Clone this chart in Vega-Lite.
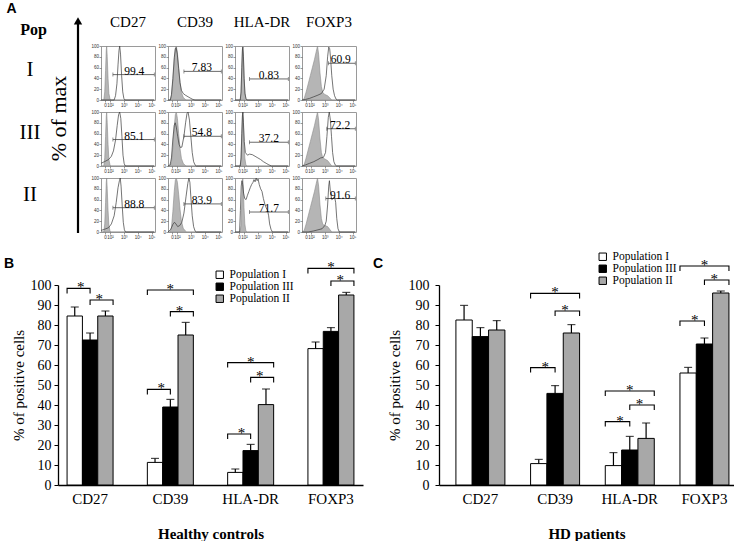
{
"$schema": "https://vega.github.io/schema/vega-lite/v6.json",
"padding": {"left": 4, "top": 2, "right": 0, "bottom": 0},
"background": "white",
"config": {"font": "Liberation Serif", "view": {"stroke": "#9a9a9a", "strokeWidth": 1}, "axis": {"labelColor": "black", "titleColor": "black", "domainColor": "black", "tickColor": "black", "grid": false, "labelFont": "Liberation Serif", "titleFont": "Liberation Serif", "labelOverlap": false}, "legend": {"labelFont": "Liberation Serif"}, "text": {"font": "Liberation Serif"}, "title": {"color": "black"}},
"datasets": {
"pops": [{"pop": "I"}, {"pop": "III"}, {"pop": "II"}],
"hist": [
{"m":"CD27","p":"I","t":"iso","xs":[1.35,1.55,1.62,1.68,1.73,1.76,1.8,1.86,1.92,2.0,2.05,5.2],"ys":[0,0,15,55,92,100,80,40,12,2,0,0]},
{"m":"CD27","p":"III","t":"iso","xs":[1.35,1.55,1.62,1.68,1.73,1.76,1.8,1.86,1.92,2.0,2.05,5.2],"ys":[0,0,15,55,92,100,80,40,12,2,0,0]},
{"m":"CD27","p":"II","t":"iso","xs":[1.35,1.55,1.62,1.68,1.73,1.76,1.8,1.86,1.92,2.0,2.05,5.2],"ys":[0,0,15,55,92,100,80,40,12,2,0,0]},
{"m":"CD39","p":"I","t":"iso","xs":[1.35,1.5,1.6,1.7,1.8,1.88,1.95,2.03,2.12,2.22,2.32,2.45,2.6,2.7,5.2],"ys":[0,0,8,35,72,95,100,88,60,32,14,5,1,0,0]},
{"m":"CD39","p":"III","t":"iso","xs":[1.35,1.5,1.6,1.7,1.8,1.88,1.95,2.03,2.12,2.22,2.32,2.45,2.6,2.7,5.2],"ys":[0,0,8,35,72,95,100,88,60,32,14,5,1,0,0]},
{"m":"CD39","p":"II","t":"iso","xs":[1.35,1.5,1.6,1.7,1.8,1.88,1.95,2.03,2.12,2.22,2.32,2.45,2.6,2.7,5.2],"ys":[0,0,8,38,75,96,100,92,70,42,20,7,2,0,0]},
{"m":"HLA-DR","p":"I","t":"iso","xs":[1.35,1.72,1.78,1.83,1.88,1.91,1.95,2.0,2.06,2.13,2.2,5.2],"ys":[0,0,12,50,90,100,85,45,15,3,0,0]},
{"m":"HLA-DR","p":"III","t":"iso","xs":[1.35,1.72,1.78,1.83,1.88,1.91,1.95,2.0,2.06,2.13,2.2,5.2],"ys":[0,0,12,50,90,100,85,45,15,3,0,0]},
{"m":"HLA-DR","p":"II","t":"iso","xs":[1.35,1.72,1.78,1.83,1.88,1.91,1.95,2.0,2.06,2.13,2.2,5.2],"ys":[0,0,12,50,90,100,85,45,15,3,0,0]},
{"m":"FOXP3","p":"I","t":"iso","xs":[1.35,1.5,1.65,1.8,1.95,2.1,2.25,2.38,2.47,2.55,2.65,2.75,2.85,3.0,3.2,3.35,3.5,5.2],"ys":[0,2,15,30,45,60,75,90,100,85,50,25,14,10,8,4,0,0]},
{"m":"FOXP3","p":"III","t":"iso","xs":[1.35,1.5,1.65,1.8,1.95,2.1,2.25,2.38,2.47,2.55,2.65,2.75,2.85,3.0,3.2,3.35,3.5,5.2],"ys":[0,2,15,30,45,60,75,90,100,85,50,25,15,13,10,5,0,0]},
{"m":"FOXP3","p":"II","t":"iso","xs":[1.35,1.5,1.65,1.8,1.95,2.1,2.25,2.38,2.47,2.55,2.65,2.75,2.85,3.0,3.2,3.35,3.5,5.2],"ys":[0,2,15,30,45,60,75,90,100,85,50,25,14,12,10,5,0,0]},
{"m":"CD27","p":"I","t":"stain","xs":[1.35,2.3,2.4,2.5,2.58,2.65,2.7,2.76,2.84,2.92,3.0,3.08,5.2],"ys":[0,0,8,30,65,92,100,85,45,15,3,0,0]},
{"m":"CD39","p":"I","t":"stain","xs":[1.35,1.52,1.6,1.7,1.8,1.88,1.94,2.02,2.12,2.22,2.32,2.45,2.6,2.8,3.0,3.15,3.3,5.2],"ys":[0,0,10,40,78,95,97,85,58,32,18,12,9,6,3,1,0,0]},
{"m":"HLA-DR","p":"I","t":"stain","xs":[1.35,1.73,1.79,1.84,1.89,1.92,1.96,2.01,2.07,2.14,2.22,5.2],"ys":[0,0,15,60,95,98,80,40,12,3,0,0]},
{"m":"FOXP3","p":"I","t":"stain","xs":[1.35,1.6,1.9,2.2,2.5,2.75,2.95,3.1,3.2,3.28,3.35,3.42,3.5,3.6,3.7,3.8,3.9,5.2],"ys":[0,1,3,6,9,12,20,45,80,98,95,75,45,20,8,2,0,0]},
{"m":"CD27","p":"III","t":"stain","xs":[1.35,1.6,1.9,2.1,2.25,2.4,2.52,2.62,2.7,2.78,2.86,2.94,3.02,3.1,5.2],"ys":[5,8,12,18,28,48,75,95,100,88,55,20,5,0,0]},
{"m":"CD39","p":"III","t":"stain","xs":[1.35,1.5,1.6,1.7,1.8,1.87,1.95,2.05,2.15,2.25,2.35,2.5,2.62,2.72,2.8,2.9,3.0,3.1,3.2,3.3,3.4,5.2],"ys":[0,2,15,50,75,80,72,55,40,34,35,55,80,97,100,85,55,25,8,2,0,0]},
{"m":"HLA-DR","p":"III","t":"stain","xs":[1.35,1.73,1.79,1.84,1.89,1.92,1.96,2.02,2.1,2.25,2.4,2.6,2.8,3.0,3.2,3.4,3.6,3.8,4.0,5.2],"ys":[0,0,15,60,95,100,80,45,25,20,22,21,18,15,12,8,5,2,0,0]},
{"m":"FOXP3","p":"III","t":"stain","xs":[1.35,1.6,1.9,2.2,2.5,2.7,2.9,3.05,3.15,3.25,3.32,3.4,3.48,3.56,3.65,3.75,3.85,5.2],"ys":[0,2,5,8,12,15,16,25,55,90,100,85,55,25,8,2,0,0]},
{"m":"CD27","p":"II","t":"stain","xs":[1.35,1.6,1.9,2.1,2.3,2.45,2.58,2.68,2.74,2.8,2.88,2.96,3.04,3.12,5.2],"ys":[3,5,8,15,30,55,82,95,100,85,50,18,4,0,0]},
{"m":"CD39","p":"II","t":"stain","xs":[1.35,1.55,1.7,1.82,1.92,2.05,2.2,2.35,2.5,2.65,2.78,2.86,2.93,3.0,3.1,3.2,3.3,3.4,5.2],"ys":[0,5,14,18,15,10,12,18,35,65,90,100,92,65,30,10,2,0,0]},
{"m":"HLA-DR","p":"II","t":"stain","xs":[1.35,1.68,1.74,1.8,1.85,1.9,1.97,2.05,2.15,2.25,2.35,2.45,2.55,2.65,2.72,2.8,2.88,2.95,3.02,3.1,3.2,3.3,3.4,3.5,3.6,3.7,3.78,3.85,3.95,4.05,5.2],"ys":[0,0,40,85,95,88,72,62,60,68,75,82,88,92,97,93,100,95,98,88,80,75,62,52,45,40,30,15,5,0,0]},
{"m":"FOXP3","p":"II","t":"stain","xs":[1.35,1.8,2.2,2.5,2.8,3.0,3.1,3.2,3.28,3.33,3.4,3.5,3.6,3.7,3.78,3.86,3.95,4.05,5.2],"ys":[0,0,2,4,6,12,20,50,85,95,75,60,62,65,55,25,6,0,0]},
{"m":"CD27","p":"I","t":"gate","xs":[2.21,5.2],"ys":[47,47],"lx":3.75,"label":"99.4"},
{"m":"CD39","p":"I","t":"gate","xs":[2.5,5.2],"ys":[53,53],"lx":3.8,"label":"7.83"},
{"m":"HLA-DR","p":"I","t":"gate","xs":[2.4,5.2],"ys":[39,39],"lx":3.8,"label":"0.83"},
{"m":"FOXP3","p":"I","t":"gate","xs":[3.26,5.2],"ys":[68,68],"lx":4.15,"label":"60.9"},
{"m":"CD27","p":"III","t":"gate","xs":[2.21,5.2],"ys":[49,49],"lx":3.75,"label":"85.1"},
{"m":"CD39","p":"III","t":"gate","xs":[2.5,5.2],"ys":[55,55],"lx":3.8,"label":"54.8"},
{"m":"HLA-DR","p":"III","t":"gate","xs":[2.4,5.2],"ys":[44,44],"lx":3.8,"label":"37.2"},
{"m":"FOXP3","p":"III","t":"gate","xs":[3.14,5.2],"ys":[69,69],"lx":4.1,"label":"72.2"},
{"m":"CD27","p":"II","t":"gate","xs":[2.21,5.2],"ys":[45,45],"lx":3.75,"label":"88.8"},
{"m":"CD39","p":"II","t":"gate","xs":[2.5,5.2],"ys":[52,52],"lx":3.8,"label":"83.9"},
{"m":"HLA-DR","p":"II","t":"gate","xs":[2.4,5.2],"ys":[37,37],"lx":3.8,"label":"71.7"},
{"m":"FOXP3","p":"II","t":"gate","xs":[3.07,5.2],"ys":[62,62],"lx":4.1,"label":"91.6"}
],
"bars": [
{"panel":"B","m":"CD27","p":"Population I","v":84.5,"u":89},
{"panel":"B","m":"CD27","p":"Population III","v":72.5,"u":76},
{"panel":"B","m":"CD27","p":"Population II","v":84.5,"u":87},
{"panel":"B","m":"CD39","p":"Population I","v":11.3,"u":13.3},
{"panel":"B","m":"CD39","p":"Population III","v":39,"u":42.8},
{"panel":"B","m":"CD39","p":"Population II","v":75,"u":81.3},
{"panel":"B","m":"HLA-DR","p":"Population I","v":6.3,"u":8},
{"panel":"B","m":"HLA-DR","p":"Population III","v":17.2,"u":20.3},
{"panel":"B","m":"HLA-DR","p":"Population II","v":40.2,"u":48},
{"panel":"B","m":"FOXP3","p":"Population I","v":68.2,"u":71.5},
{"panel":"B","m":"FOXP3","p":"Population III","v":76.8,"u":78.7},
{"panel":"B","m":"FOXP3","p":"Population II","v":95,"u":96.3},
{"panel":"C","m":"CD27","p":"Population I","v":82.5,"u":89.8},
{"panel":"C","m":"CD27","p":"Population III","v":74.2,"u":78.7},
{"panel":"C","m":"CD27","p":"Population II","v":77.5,"u":82.2},
{"panel":"C","m":"CD39","p":"Population I","v":10.7,"u":12.8},
{"panel":"C","m":"CD39","p":"Population III","v":45.8,"u":49.7},
{"panel":"C","m":"CD39","p":"Population II","v":76,"u":80.2},
{"panel":"C","m":"HLA-DR","p":"Population I","v":9.7,"u":16.2},
{"panel":"C","m":"HLA-DR","p":"Population III","v":17.5,"u":24.3},
{"panel":"C","m":"HLA-DR","p":"Population II","v":23.3,"u":31},
{"panel":"C","m":"FOXP3","p":"Population I","v":56,"u":58.8},
{"panel":"C","m":"FOXP3","p":"Population III","v":70.5,"u":73.5},
{"panel":"C","m":"FOXP3","p":"Population II","v":96,"u":97}
],
"brackets": [
{"panel":"B","m":"CD27","b":"b1","p":"Population I","y":95.8,"o":0},{"panel":"B","m":"CD27","b":"b1","p":"Population I","y":98.3,"o":1},{"panel":"B","m":"CD27","b":"b1","p":"Population III","y":98.3,"o":2},{"panel":"B","m":"CD27","b":"b1","p":"Population III","y":95.8,"o":3},
{"panel":"B","m":"CD27","b":"b2","p":"Population III","y":90,"o":0},{"panel":"B","m":"CD27","b":"b2","p":"Population III","y":92.5,"o":1},{"panel":"B","m":"CD27","b":"b2","p":"Population II","y":92.5,"o":2},{"panel":"B","m":"CD27","b":"b2","p":"Population II","y":90,"o":3},
{"panel":"B","m":"CD39","b":"b3","p":"Population I","y":95,"o":0},{"panel":"B","m":"CD39","b":"b3","p":"Population I","y":97.5,"o":1},{"panel":"B","m":"CD39","b":"b3","p":"Population II","y":97.5,"o":2},{"panel":"B","m":"CD39","b":"b3","p":"Population II","y":95,"o":3},
{"panel":"B","m":"CD39","b":"b4","p":"Population III","y":84.2,"o":0},{"panel":"B","m":"CD39","b":"b4","p":"Population III","y":86.7,"o":1},{"panel":"B","m":"CD39","b":"b4","p":"Population II","y":86.7,"o":2},{"panel":"B","m":"CD39","b":"b4","p":"Population II","y":84.2,"o":3},
{"panel":"B","m":"CD39","b":"b5","p":"Population I","y":45.3,"o":0},{"panel":"B","m":"CD39","b":"b5","p":"Population I","y":47.8,"o":1},{"panel":"B","m":"CD39","b":"b5","p":"Population III","y":47.8,"o":2},{"panel":"B","m":"CD39","b":"b5","p":"Population III","y":45.3,"o":3},
{"panel":"B","m":"HLA-DR","b":"b6","p":"Population I","y":58.7,"o":0},{"panel":"B","m":"HLA-DR","b":"b6","p":"Population I","y":61.2,"o":1},{"panel":"B","m":"HLA-DR","b":"b6","p":"Population II","y":61.2,"o":2},{"panel":"B","m":"HLA-DR","b":"b6","p":"Population II","y":58.7,"o":3},
{"panel":"B","m":"HLA-DR","b":"b7","p":"Population III","y":51.3,"o":0},{"panel":"B","m":"HLA-DR","b":"b7","p":"Population III","y":53.8,"o":1},{"panel":"B","m":"HLA-DR","b":"b7","p":"Population II","y":53.8,"o":2},{"panel":"B","m":"HLA-DR","b":"b7","p":"Population II","y":51.3,"o":3},
{"panel":"B","m":"HLA-DR","b":"b8","p":"Population I","y":23,"o":0},{"panel":"B","m":"HLA-DR","b":"b8","p":"Population I","y":25.5,"o":1},{"panel":"B","m":"HLA-DR","b":"b8","p":"Population III","y":25.5,"o":2},{"panel":"B","m":"HLA-DR","b":"b8","p":"Population III","y":23,"o":3},
{"panel":"B","m":"FOXP3","b":"b9","p":"Population I","y":105.8,"o":0},{"panel":"B","m":"FOXP3","b":"b9","p":"Population I","y":108.3,"o":1},{"panel":"B","m":"FOXP3","b":"b9","p":"Population II","y":108.3,"o":2},{"panel":"B","m":"FOXP3","b":"b9","p":"Population II","y":105.8,"o":3},
{"panel":"B","m":"FOXP3","b":"b10","p":"Population III","y":99.5,"o":0},{"panel":"B","m":"FOXP3","b":"b10","p":"Population III","y":102,"o":1},{"panel":"B","m":"FOXP3","b":"b10","p":"Population II","y":102,"o":2},{"panel":"B","m":"FOXP3","b":"b10","p":"Population II","y":99.5,"o":3},
{"panel":"C","m":"CD39","b":"c1","p":"Population I","y":93.3,"o":0},{"panel":"C","m":"CD39","b":"c1","p":"Population I","y":95.8,"o":1},{"panel":"C","m":"CD39","b":"c1","p":"Population II","y":95.8,"o":2},{"panel":"C","m":"CD39","b":"c1","p":"Population II","y":93.3,"o":3},
{"panel":"C","m":"CD39","b":"c2","p":"Population III","y":84.5,"o":0},{"panel":"C","m":"CD39","b":"c2","p":"Population III","y":87,"o":1},{"panel":"C","m":"CD39","b":"c2","p":"Population II","y":87,"o":2},{"panel":"C","m":"CD39","b":"c2","p":"Population II","y":84.5,"o":3},
{"panel":"C","m":"CD39","b":"c3","p":"Population I","y":56.2,"o":0},{"panel":"C","m":"CD39","b":"c3","p":"Population I","y":58.7,"o":1},{"panel":"C","m":"CD39","b":"c3","p":"Population III","y":58.7,"o":2},{"panel":"C","m":"CD39","b":"c3","p":"Population III","y":56.2,"o":3},
{"panel":"C","m":"HLA-DR","b":"c4","p":"Population I","y":44.5,"o":0},{"panel":"C","m":"HLA-DR","b":"c4","p":"Population I","y":47,"o":1},{"panel":"C","m":"HLA-DR","b":"c4","p":"Population II","y":47,"o":2},{"panel":"C","m":"HLA-DR","b":"c4","p":"Population II","y":44.5,"o":3},
{"panel":"C","m":"HLA-DR","b":"c5","p":"Population III","y":37.5,"o":0},{"panel":"C","m":"HLA-DR","b":"c5","p":"Population III","y":40,"o":1},{"panel":"C","m":"HLA-DR","b":"c5","p":"Population II","y":40,"o":2},{"panel":"C","m":"HLA-DR","b":"c5","p":"Population II","y":37.5,"o":3},
{"panel":"C","m":"HLA-DR","b":"c6","p":"Population I","y":29.2,"o":0},{"panel":"C","m":"HLA-DR","b":"c6","p":"Population I","y":31.7,"o":1},{"panel":"C","m":"HLA-DR","b":"c6","p":"Population III","y":31.7,"o":2},{"panel":"C","m":"HLA-DR","b":"c6","p":"Population III","y":29.2,"o":3},
{"panel":"C","m":"FOXP3","b":"c7","p":"Population I","y":107,"o":0},{"panel":"C","m":"FOXP3","b":"c7","p":"Population I","y":109.5,"o":1},{"panel":"C","m":"FOXP3","b":"c7","p":"Population II","y":109.5,"o":2},{"panel":"C","m":"FOXP3","b":"c7","p":"Population II","y":107,"o":3},
{"panel":"C","m":"FOXP3","b":"c8","p":"Population III","y":100,"o":0},{"panel":"C","m":"FOXP3","b":"c8","p":"Population III","y":102.5,"o":1},{"panel":"C","m":"FOXP3","b":"c8","p":"Population II","y":102.5,"o":2},{"panel":"C","m":"FOXP3","b":"c8","p":"Population II","y":100,"o":3},
{"panel":"C","m":"FOXP3","b":"c9","p":"Population I","y":79.5,"o":0},{"panel":"C","m":"FOXP3","b":"c9","p":"Population I","y":82,"o":1},{"panel":"C","m":"FOXP3","b":"c9","p":"Population III","y":82,"o":2},{"panel":"C","m":"FOXP3","b":"c9","p":"Population III","y":79.5,"o":3}
],
"stars": [
{"panel":"B","m":"CD27","pair":"I-III","y":98.3},{"panel":"B","m":"CD27","pair":"III-II","y":92.5},
{"panel":"B","m":"CD39","pair":"I-II","y":97.5},{"panel":"B","m":"CD39","pair":"III-II","y":86.7},{"panel":"B","m":"CD39","pair":"I-III","y":47.8},
{"panel":"B","m":"HLA-DR","pair":"I-II","y":61.2},{"panel":"B","m":"HLA-DR","pair":"III-II","y":53.8},{"panel":"B","m":"HLA-DR","pair":"I-III","y":25.5},
{"panel":"B","m":"FOXP3","pair":"I-II","y":108.3},{"panel":"B","m":"FOXP3","pair":"III-II","y":102},
{"panel":"C","m":"CD39","pair":"I-II","y":95.8},{"panel":"C","m":"CD39","pair":"III-II","y":87},{"panel":"C","m":"CD39","pair":"I-III","y":58.7},
{"panel":"C","m":"HLA-DR","pair":"I-II","y":47},{"panel":"C","m":"HLA-DR","pair":"III-II","y":40},{"panel":"C","m":"HLA-DR","pair":"I-III","y":31.7},
{"panel":"C","m":"FOXP3","pair":"I-II","y":109.5},{"panel":"C","m":"FOXP3","pair":"III-II","y":102.5},{"panel":"C","m":"FOXP3","pair":"I-III","y":82}
]
},
"vconcat": [
{"hconcat": [
 {"width": 20, "height": 187, "view": {"stroke": null},
  "title": {"text": "A", "anchor": "start", "frame": "bounds", "font": "Liberation Sans", "fontSize": 14, "fontWeight": "bold", "offset": 1, "dx": -13},
  "layer": [
   {"data": {"name": "pops"}, "mark": {"type": "text", "fontSize": 21, "font": "Liberation Serif", "color": "black", "dy": -7},
    "encoding": {
     "x": {"datum": -1.4, "type": "quantitative", "scale": {"domain": [0, 1], "nice": false, "zero": false}, "axis": null},
     "y": {"field": "pop", "type": "nominal", "sort": ["I", "III", "II"], "scale": {"paddingInner": 0.1, "paddingOuter": 0},
      "axis": {"orient": "left", "labels": false, "ticks": false, "domain": false, "title": "Pop", "titleAngle": 0, "titleX": -25, "titleY": -17, "titleAlign": "center", "titleBaseline": "middle", "titleFontSize": 16, "titleFontWeight": "bold", "titleFont": "Liberation Serif"}},
     "text": {"field": "pop"}}},
   {"data": {"values": [{}]}, "mark": {"type": "rule", "strokeWidth": 2.2, "color": "black"},
    "encoding": {
     "x": {"datum": 1, "type": "quantitative", "scale": {"domain": [0, 1], "nice": false, "zero": false}, "axis": null},
     "y": {"datum": 0, "type": "quantitative", "scale": {"domain": [0, 1], "nice": false}, "axis": {"orient": "right", "labels": false, "ticks": false, "domain": false, "grid": false, "title": "% of max", "titleAngle": 270, "titleX": -20, "titleY": 72, "titleAlign": "center", "titleBaseline": "middle", "titleFontSize": 22, "titleFontWeight": "normal", "titleFont": "Liberation Serif"}},
     "y2": {"datum": 1.12}}},
   {"data": {"values": [{}]}, "mark": {"type": "point", "shape": "triangle-up", "filled": true, "color": "black", "size": 70, "opacity": 1},
    "encoding": {
     "x": {"datum": 1, "type": "quantitative", "scale": {"domain": [0, 1], "nice": false, "zero": false}, "axis": null},
     "y": {"datum": 1.135, "type": "quantitative", "scale": {"domain": [0, 1], "nice": false}, "axis": null}}}
  ],
  "resolve": {"scale": {"y": "independent"}, "axis": {"y": "independent"}}
 },
 {"data": {"name": "hist"},
  "transform": [{"flatten": ["xs", "ys"], "as": ["x", "y"]}],
  "facet": {
   "row": {"field": "p", "type": "nominal", "sort": ["I", "III", "II"], "header": {"labels": false, "title": null}},
   "column": {"field": "m", "type": "nominal", "sort": ["CD27", "CD39", "HLA-DR", "FOXP3"], "header": {"title": null, "labelFont": "Liberation Serif", "labelFontSize": 15, "labelColor": "black", "labelPadding": 12}}
  },
  "spacing": {"row": 0, "column": 0},
  "spec": {
   "width": 54, "height": 54,
   "layer": [
    {"transform": [{"filter": "datum.t == 'iso'"}],
     "mark": {"type": "area", "fill": "#b5b5b5", "stroke": "#8a8a8a", "strokeWidth": 0.6},
     "encoding": {
      "x": {"field": "x", "type": "quantitative", "scale": {"domain": [1.35, 5.25], "nice": false, "zero": false},
       "axis": {"values": [1.64, 2, 3, 4, 5], "labelExpr": "datum.value < 1.9 ? '0' : datum.value == 2 ? '10²' : datum.value == 3 ? '10³' : datum.value == 4 ? '10⁴' : '10⁵'", "title": null, "labelFontSize": 4.5, "labelFont": "Liberation Sans", "tickSize": 2, "labelPadding": 0.5, "domain": false, "grid": false, "labelOverlap": false, "labelFlush": false, "labelColor": "#333", "tickColor": "#555", "tickWidth": 0.6}},
      "y": {"field": "y", "type": "quantitative", "scale": {"domain": [0, 100], "nice": false},
       "axis": {"values": [0, 20, 40, 60, 80, 100], "title": null, "labelFontSize": 4.5, "labelFont": "Liberation Sans", "tickSize": 2, "labelPadding": 0.5, "domain": false, "grid": false, "labelOverlap": false, "labelColor": "#333", "tickColor": "#555", "tickWidth": 0.6}}}},
    {"transform": [{"filter": "datum.t == 'stain'"}],
     "mark": {"type": "line", "color": "#3a3a3a", "strokeWidth": 0.7},
     "encoding": {
      "x": {"field": "x", "type": "quantitative", "axis": {"values": [1.64, 2, 3, 4, 5], "labelExpr": "datum.value < 1.9 ? '0' : datum.value == 2 ? '10²' : datum.value == 3 ? '10³' : datum.value == 4 ? '10⁴' : '10⁵'", "title": null, "labelFontSize": 4.5, "labelFont": "Liberation Sans", "tickSize": 2, "labelPadding": 0.5, "domain": false, "grid": false, "labelOverlap": false, "labelFlush": false, "labelColor": "#333", "tickColor": "#555", "tickWidth": 0.6}},
      "y": {"field": "y", "type": "quantitative", "axis": {"values": [0, 20, 40, 60, 80, 100], "title": null, "labelFontSize": 4.5, "labelFont": "Liberation Sans", "tickSize": 2, "labelPadding": 0.5, "domain": false, "grid": false, "labelOverlap": false, "labelColor": "#333", "tickColor": "#555", "tickWidth": 0.6}}}},
    {"transform": [{"filter": "datum.t == 'gate'"}],
     "mark": {"type": "line", "color": "#444", "strokeWidth": 0.8},
     "encoding": {
      "x": {"field": "x", "type": "quantitative", "axis": {"values": [1.64, 2, 3, 4, 5], "labelExpr": "datum.value < 1.9 ? '0' : datum.value == 2 ? '10²' : datum.value == 3 ? '10³' : datum.value == 4 ? '10⁴' : '10⁵'", "title": null, "labelFontSize": 4.5, "labelFont": "Liberation Sans", "tickSize": 2, "labelPadding": 0.5, "domain": false, "grid": false, "labelOverlap": false, "labelFlush": false, "labelColor": "#333", "tickColor": "#555", "tickWidth": 0.6}},
      "y": {"field": "y", "type": "quantitative", "axis": {"values": [0, 20, 40, 60, 80, 100], "title": null, "labelFontSize": 4.5, "labelFont": "Liberation Sans", "tickSize": 2, "labelPadding": 0.5, "domain": false, "grid": false, "labelOverlap": false, "labelColor": "#333", "tickColor": "#555", "tickWidth": 0.6}}}},
    {"transform": [{"filter": "datum.t == 'gate'"}],
     "mark": {"type": "tick", "orient": "vertical", "size": 4, "thickness": 0.8, "color": "#444"},
     "encoding": {
      "x": {"field": "x", "type": "quantitative", "axis": {"values": [1.64, 2, 3, 4, 5], "labelExpr": "datum.value < 1.9 ? '0' : datum.value == 2 ? '10²' : datum.value == 3 ? '10³' : datum.value == 4 ? '10⁴' : '10⁵'", "title": null, "labelFontSize": 4.5, "labelFont": "Liberation Sans", "tickSize": 2, "labelPadding": 0.5, "domain": false, "grid": false, "labelOverlap": false, "labelFlush": false, "labelColor": "#333", "tickColor": "#555", "tickWidth": 0.6}},
      "y": {"field": "y", "type": "quantitative", "axis": {"values": [0, 20, 40, 60, 80, 100], "title": null, "labelFontSize": 4.5, "labelFont": "Liberation Sans", "tickSize": 2, "labelPadding": 0.5, "domain": false, "grid": false, "labelOverlap": false, "labelColor": "#333", "tickColor": "#555", "tickWidth": 0.6}}}},
    {"transform": [{"filter": "datum.t == 'gate' && datum.x < 5.19"}],
     "mark": {"type": "text", "font": "Liberation Serif", "fontSize": 11.5, "baseline": "alphabetic", "fill": "black", "dy": 0},
     "encoding": {
      "x": {"field": "lx", "type": "quantitative", "axis": {"values": [1.64, 2, 3, 4, 5], "labelExpr": "datum.value < 1.9 ? '0' : datum.value == 2 ? '10²' : datum.value == 3 ? '10³' : datum.value == 4 ? '10⁴' : '10⁵'", "title": null, "labelFontSize": 4.5, "labelFont": "Liberation Sans", "tickSize": 2, "labelPadding": 0.5, "domain": false, "grid": false, "labelOverlap": false, "labelFlush": false, "labelColor": "#333", "tickColor": "#555", "tickWidth": 0.6}},
      "y": {"field": "y", "type": "quantitative", "axis": {"values": [0, 20, 40, 60, 80, 100], "title": null, "labelFontSize": 4.5, "labelFont": "Liberation Sans", "tickSize": 2, "labelPadding": 0.5, "domain": false, "grid": false, "labelOverlap": false, "labelColor": "#333", "tickColor": "#555", "tickWidth": 0.6}},
      "text": {"field": "label"}}}
   ]
  },
  "resolve": {"axis": {"x": "independent", "y": "independent"}}
 }
], "spacing": 7},
{"hconcat": [
 {"width": 305, "height": 200, "view": {"stroke": null},
  "title": {"text": "B", "anchor": "start", "frame": "bounds", "font": "Liberation Sans", "fontSize": 14, "fontWeight": "bold", "dx": -7, "offset": -11},
  "layer": [
   {"data": {"name": "bars"}, "transform": [{"filter": "datum.panel == 'B'"}],
    "mark": {"type": "bar", "stroke": "black", "strokeWidth": 1},
    "encoding": {
     "x": {"field": "m", "type": "nominal", "sort": ["CD27", "CD39", "HLA-DR", "FOXP3"], "scale": {"paddingInner": 0.427, "paddingOuter": 0.113},
      "axis": {"title": "Healthy controls", "titleFontWeight": "bold", "titleFontSize": 15, "titlePadding": 20, "labelFontSize": 15, "labelAngle": 0, "ticks": false, "tickSize": 0, "labelPadding": 6, "domainColor": "black", "domainWidth": 1.3}},
     "xOffset": {"field": "p", "type": "nominal", "scale": {"domain": ["Population I", "Population III", "Population II"], "paddingInner": 0, "paddingOuter": 0}},
     "y": {"field": "v", "type": "quantitative", "scale": {"domain": [0, 100], "nice": false},
      "axis": {"values": [0, 10, 20, 30, 40, 50, 60, 70, 80, 90, 100], "title": "% of positive cells", "titleFontSize": 15, "titleFontWeight": "normal", "titlePadding": 4, "labelFontSize": 14, "labelOverlap": false, "tickSize": 4, "labelPadding": 3, "domainWidth": 1.3, "grid": false}},
     "fill": {"field": "p", "type": "nominal", "scale": {"domain": ["Population I", "Population III", "Population II"], "range": ["#ffffff", "#000000", "#a8a8a8"]},
      "legend": {"title": null, "orient": "none", "legendX": 156, "legendY": -16, "symbolType": "square", "symbolSize": 55, "symbolStrokeColor": "black", "symbolStrokeWidth": 1, "labelFont": "Liberation Serif", "labelFontSize": 11.5, "labelColor": "black", "rowPadding": -1, "labelOffset": 4}}}},
   {"data": {"name": "bars"}, "transform": [{"filter": "datum.panel == 'B'"}],
    "mark": {"type": "rule", "color": "black", "strokeWidth": 1.2},
    "encoding": {
     "x": {"field": "m", "type": "nominal", "sort": ["CD27", "CD39", "HLA-DR", "FOXP3"]},
     "xOffset": {"field": "p", "type": "nominal", "scale": {"domain": ["Population I", "Population III", "Population II"], "paddingInner": 0, "paddingOuter": 0}},
     "y": {"field": "v", "type": "quantitative", "axis": {"values": [0, 10, 20, 30, 40, 50, 60, 70, 80, 90, 100], "title": "% of positive cells", "titleFontSize": 15, "titleFontWeight": "normal", "titlePadding": 4, "labelFontSize": 14, "labelOverlap": false, "tickSize": 4, "labelPadding": 3, "domainWidth": 1.3, "grid": false}}, "y2": {"field": "u"}}},
   {"data": {"name": "bars"}, "transform": [{"filter": "datum.panel == 'B'"}],
    "mark": {"type": "tick", "color": "black", "thickness": 1.2, "size": 8},
    "encoding": {
     "x": {"field": "m", "type": "nominal", "sort": ["CD27", "CD39", "HLA-DR", "FOXP3"]},
     "xOffset": {"field": "p", "type": "nominal", "scale": {"domain": ["Population I", "Population III", "Population II"], "paddingInner": 0, "paddingOuter": 0}},
     "y": {"field": "u", "type": "quantitative", "axis": {"values": [0, 10, 20, 30, 40, 50, 60, 70, 80, 90, 100], "title": "% of positive cells", "titleFontSize": 15, "titleFontWeight": "normal", "titlePadding": 4, "labelFontSize": 14, "labelOverlap": false, "tickSize": 4, "labelPadding": 3, "domainWidth": 1.3, "grid": false}}}},
   {"data": {"name": "brackets"}, "transform": [{"filter": "datum.panel == 'B'"}],
    "mark": {"type": "line", "color": "black", "strokeWidth": 1.1},
    "encoding": {
     "x": {"field": "m", "type": "nominal", "sort": ["CD27", "CD39", "HLA-DR", "FOXP3"]},
     "xOffset": {"field": "p", "type": "nominal", "scale": {"domain": ["Population I", "Population III", "Population II"], "paddingInner": 0, "paddingOuter": 0}},
     "y": {"field": "y", "type": "quantitative", "axis": {"values": [0, 10, 20, 30, 40, 50, 60, 70, 80, 90, 100], "title": "% of positive cells", "titleFontSize": 15, "titleFontWeight": "normal", "titlePadding": 4, "labelFontSize": 14, "labelOverlap": false, "tickSize": 4, "labelPadding": 3, "domainWidth": 1.3, "grid": false}},
     "detail": {"field": "b"}, "order": {"field": "o"}}},
   {"data": {"name": "stars"}, "transform": [{"filter": "datum.panel == 'B'"}],
    "mark": {"type": "text", "text": "*", "fontSize": 15, "baseline": "alphabetic", "dy": 4, "fill": "black"},
    "encoding": {
     "x": {"field": "m", "type": "nominal", "sort": ["CD27", "CD39", "HLA-DR", "FOXP3"]},
     "xOffset": {"field": "pair", "type": "nominal", "scale": {"type": "band", "domain": ["I-III", "I-II", "III-II"], "paddingInner": 0, "paddingOuter": 1.5}},
     "y": {"field": "y", "type": "quantitative", "axis": {"values": [0, 10, 20, 30, 40, 50, 60, 70, 80, 90, 100], "title": "% of positive cells", "titleFontSize": 15, "titleFontWeight": "normal", "titlePadding": 4, "labelFontSize": 14, "labelOverlap": false, "tickSize": 4, "labelPadding": 3, "domainWidth": 1.3, "grid": false}},
     "color": {"value": "black"}}}
  ],
  "resolve": {"scale": {"xOffset": "independent"}}
 },
 {"width": 295, "height": 200, "view": {"stroke": null},
  "title": {"text": "C", "anchor": "start", "frame": "bounds", "font": "Liberation Sans", "fontSize": 14, "fontWeight": "bold", "dx": -14, "offset": -20},
  "layer": [
   {"data": {"name": "bars"}, "transform": [{"filter": "datum.panel == 'C'"}],
    "mark": {"type": "bar", "stroke": "black", "strokeWidth": 1},
    "encoding": {
     "x": {"field": "m", "type": "nominal", "sort": ["CD27", "CD39", "HLA-DR", "FOXP3"], "scale": {"paddingInner": 0.344, "paddingOuter": 0.147, "align": 0.77},
      "axis": {"title": "HD patients", "titleFontWeight": "bold", "titleFontSize": 15, "titlePadding": 20, "labelFontSize": 15, "labelAngle": 0, "ticks": false, "tickSize": 0, "labelPadding": 6, "domainColor": "black", "domainWidth": 1.3}},
     "xOffset": {"field": "p", "type": "nominal", "scale": {"domain": ["Population I", "Population III", "Population II"], "paddingInner": 0, "paddingOuter": 0}},
     "y": {"field": "v", "type": "quantitative", "scale": {"domain": [0, 100], "nice": false},
      "axis": {"values": [0, 10, 20, 30, 40, 50, 60, 70, 80, 90, 100], "title": "% of positive cells", "titleFontSize": 15, "titleFontWeight": "normal", "titlePadding": 6, "labelFontSize": 14, "labelOverlap": false, "tickSize": 4, "labelPadding": 6, "domainWidth": 1.3, "grid": false}},
     "fill": {"field": "p", "type": "nominal", "scale": {"domain": ["Population I", "Population III", "Population II"], "range": ["#ffffff", "#000000", "#a8a8a8"]},
      "legend": {"title": null, "orient": "none", "legendX": 158, "legendY": -34, "symbolType": "square", "symbolSize": 55, "symbolStrokeColor": "black", "symbolStrokeWidth": 1, "labelFont": "Liberation Serif", "labelFontSize": 11.5, "labelColor": "black", "rowPadding": -1, "labelOffset": 4}}}},
   {"data": {"name": "bars"}, "transform": [{"filter": "datum.panel == 'C'"}],
    "mark": {"type": "rule", "color": "black", "strokeWidth": 1.2},
    "encoding": {
     "x": {"field": "m", "type": "nominal", "sort": ["CD27", "CD39", "HLA-DR", "FOXP3"]},
     "xOffset": {"field": "p", "type": "nominal", "scale": {"domain": ["Population I", "Population III", "Population II"], "paddingInner": 0, "paddingOuter": 0}},
     "y": {"field": "v", "type": "quantitative", "axis": {"values": [0, 10, 20, 30, 40, 50, 60, 70, 80, 90, 100], "title": "% of positive cells", "titleFontSize": 15, "titleFontWeight": "normal", "titlePadding": 6, "labelFontSize": 14, "labelOverlap": false, "tickSize": 4, "labelPadding": 6, "domainWidth": 1.3, "grid": false}}, "y2": {"field": "u"}}},
   {"data": {"name": "bars"}, "transform": [{"filter": "datum.panel == 'C'"}],
    "mark": {"type": "tick", "color": "black", "thickness": 1.2, "size": 8},
    "encoding": {
     "x": {"field": "m", "type": "nominal", "sort": ["CD27", "CD39", "HLA-DR", "FOXP3"]},
     "xOffset": {"field": "p", "type": "nominal", "scale": {"domain": ["Population I", "Population III", "Population II"], "paddingInner": 0, "paddingOuter": 0}},
     "y": {"field": "u", "type": "quantitative", "axis": {"values": [0, 10, 20, 30, 40, 50, 60, 70, 80, 90, 100], "title": "% of positive cells", "titleFontSize": 15, "titleFontWeight": "normal", "titlePadding": 6, "labelFontSize": 14, "labelOverlap": false, "tickSize": 4, "labelPadding": 6, "domainWidth": 1.3, "grid": false}}}},
   {"data": {"name": "brackets"}, "transform": [{"filter": "datum.panel == 'C'"}],
    "mark": {"type": "line", "color": "black", "strokeWidth": 1.1},
    "encoding": {
     "x": {"field": "m", "type": "nominal", "sort": ["CD27", "CD39", "HLA-DR", "FOXP3"]},
     "xOffset": {"field": "p", "type": "nominal", "scale": {"domain": ["Population I", "Population III", "Population II"], "paddingInner": 0, "paddingOuter": 0}},
     "y": {"field": "y", "type": "quantitative", "axis": {"values": [0, 10, 20, 30, 40, 50, 60, 70, 80, 90, 100], "title": "% of positive cells", "titleFontSize": 15, "titleFontWeight": "normal", "titlePadding": 6, "labelFontSize": 14, "labelOverlap": false, "tickSize": 4, "labelPadding": 6, "domainWidth": 1.3, "grid": false}},
     "detail": {"field": "b"}, "order": {"field": "o"}}},
   {"data": {"name": "stars"}, "transform": [{"filter": "datum.panel == 'C'"}],
    "mark": {"type": "text", "text": "*", "fontSize": 15, "baseline": "alphabetic", "dy": 4, "fill": "black"},
    "encoding": {
     "x": {"field": "m", "type": "nominal", "sort": ["CD27", "CD39", "HLA-DR", "FOXP3"]},
     "xOffset": {"field": "pair", "type": "nominal", "scale": {"type": "band", "domain": ["I-III", "I-II", "III-II"], "paddingInner": 0, "paddingOuter": 1.5}},
     "y": {"field": "y", "type": "quantitative", "axis": {"values": [0, 10, 20, 30, 40, 50, 60, 70, 80, 90, 100], "title": "% of positive cells", "titleFontSize": 15, "titleFontWeight": "normal", "titlePadding": 6, "labelFontSize": 14, "labelOverlap": false, "tickSize": 4, "labelPadding": 6, "domainWidth": 1.3, "grid": false}},
     "color": {"value": "black"}}}
  ],
  "resolve": {"scale": {"xOffset": "independent"}}
 }
], "spacing": 76, "bounds": "flush", "resolve": {"scale": {"fill": "independent"}, "legend": {"fill": "independent"}}}
],
"spacing": 11
}
